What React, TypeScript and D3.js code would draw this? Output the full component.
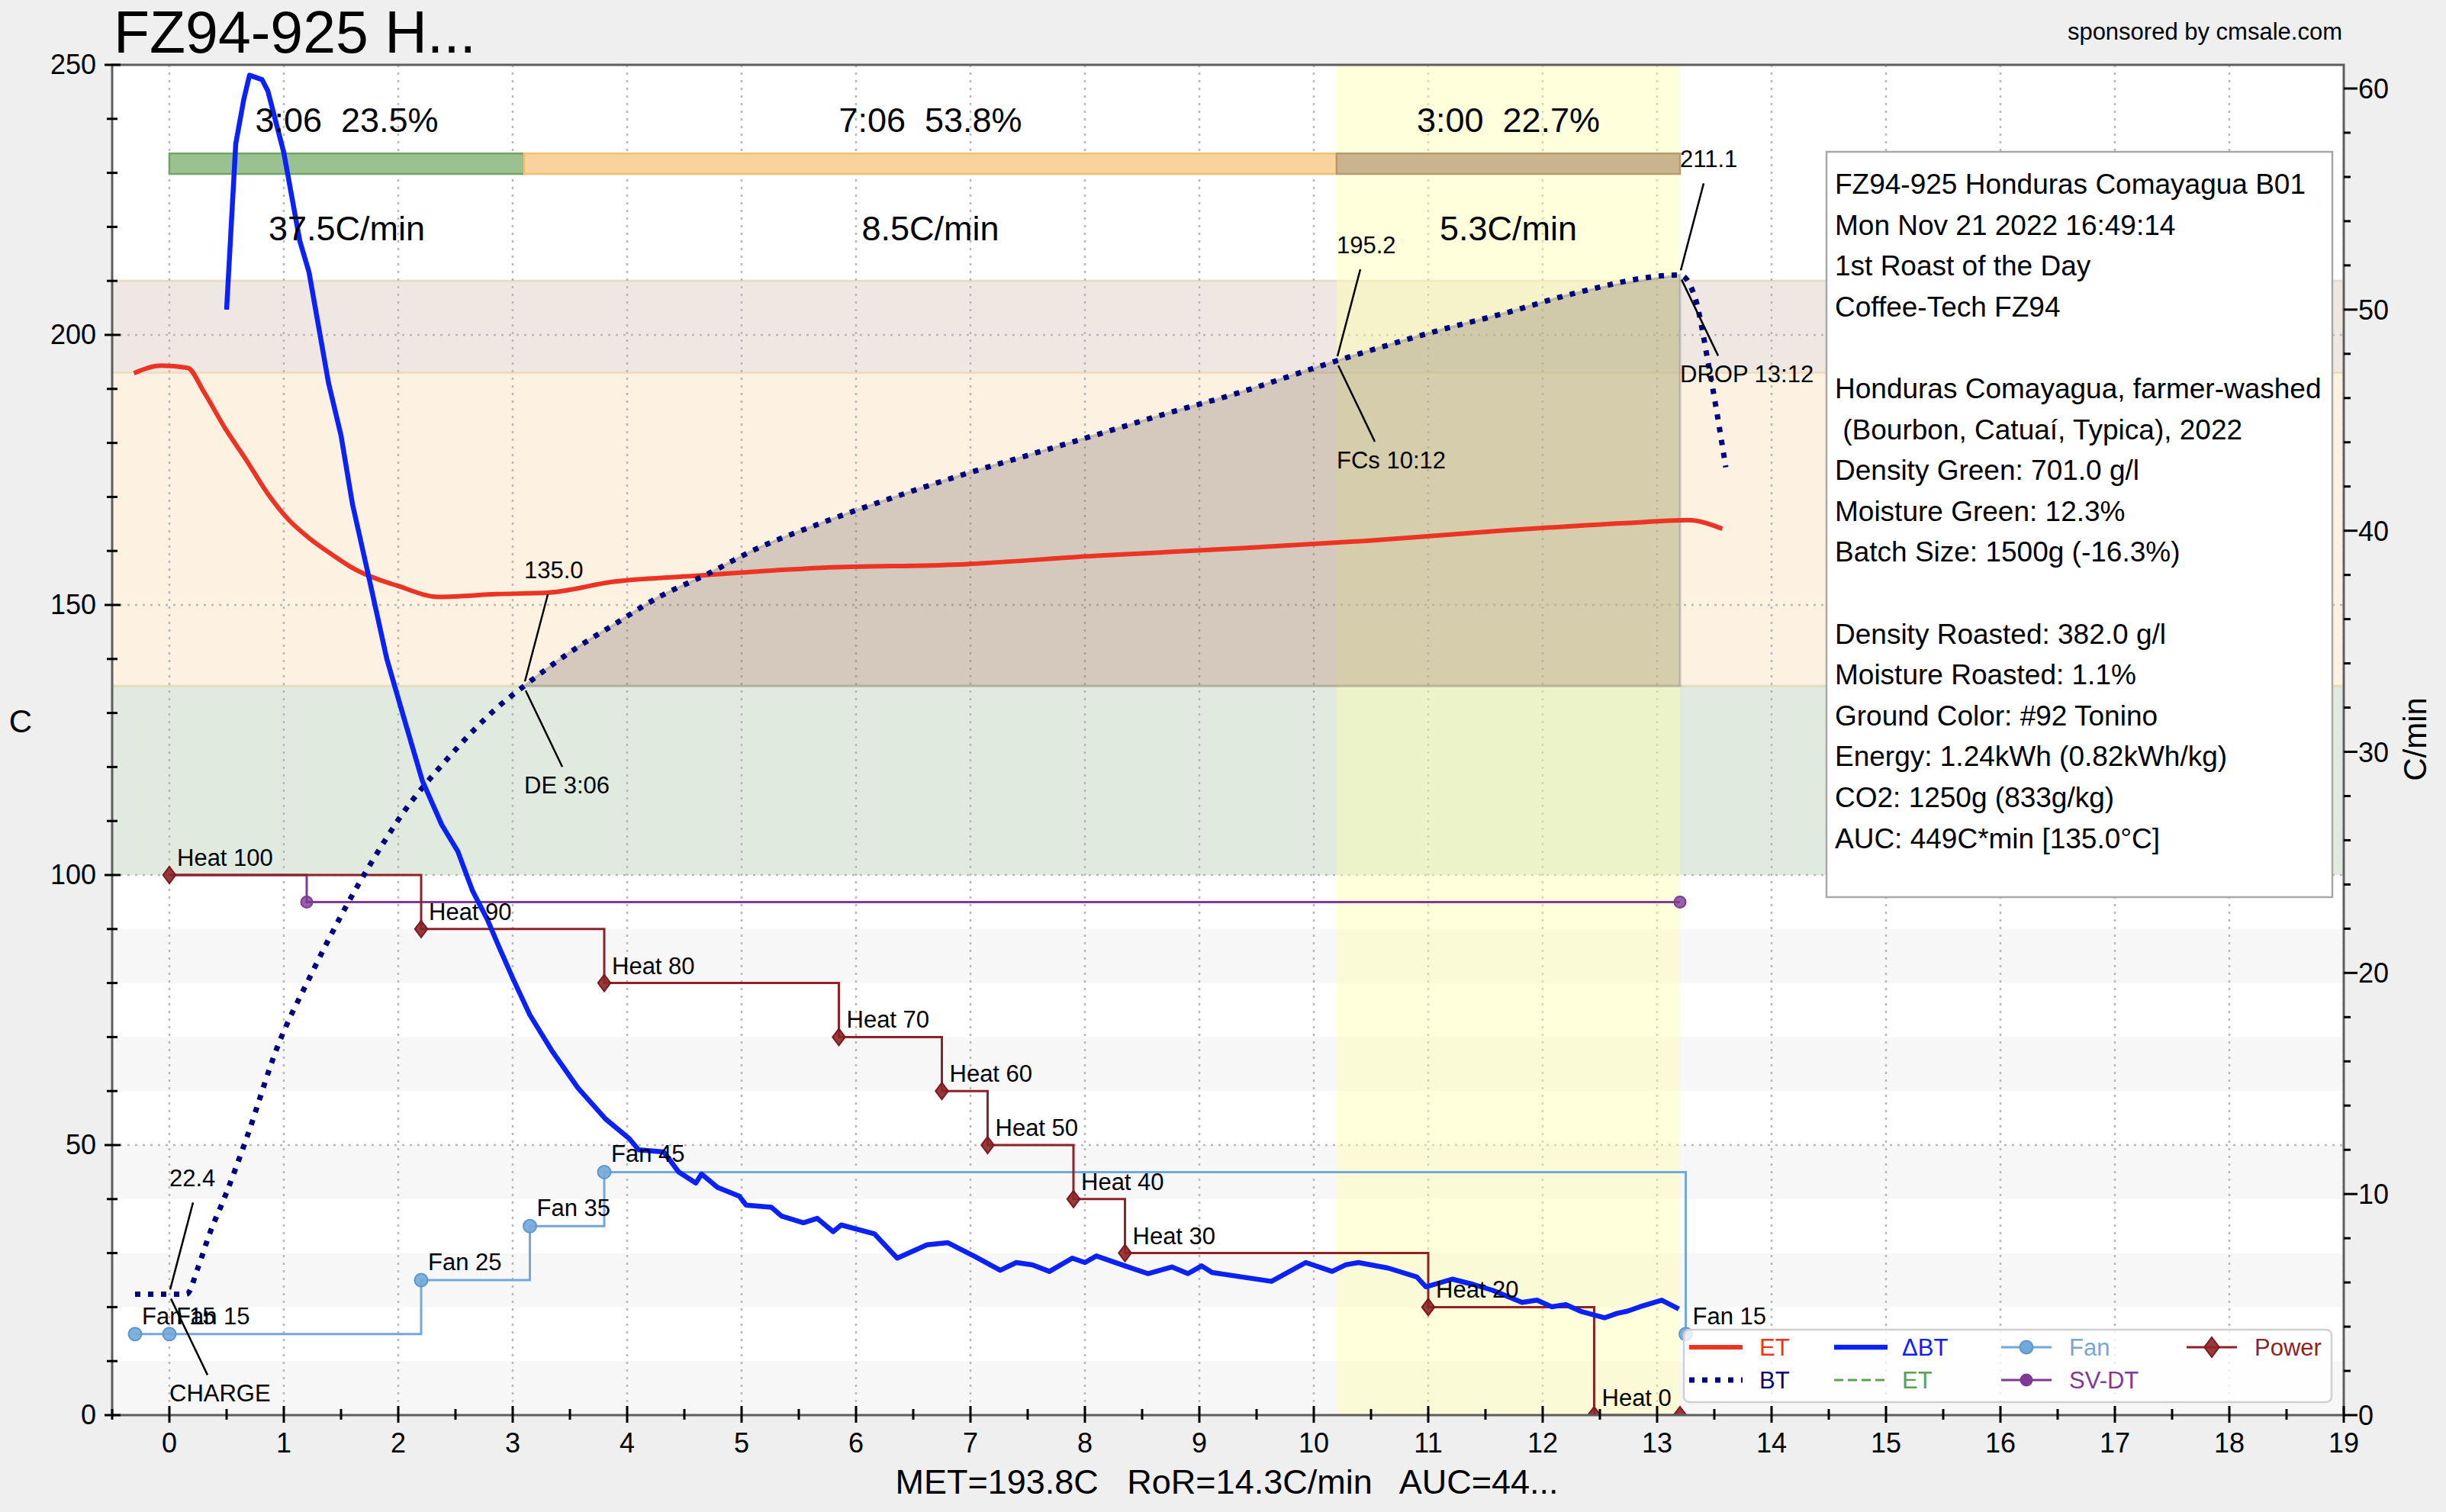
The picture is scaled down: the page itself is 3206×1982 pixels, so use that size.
import * as d3 from "d3";
import { useEffect } from "react";

const W = 3206;
const H = 1982;

// bean temperature (C)
const btTime = [-0.3, 0.15, 0.25, 0.35, 0.49, 0.67, 0.95, 1.23, 1.56, 1.89, 2.0, 2.45, 2.86, 3.1, 3.54, 3.88, 4.28, 4.69, 5.12, 5.7, 6.31, 6.9, 7.5, 8.1, 8.69, 9.3, 10.2, 11.07, 11.7, 12.26, 13.2, 13.33, 13.45, 13.6];
const btVal = [22.4, 22.4, 27.3, 33.5, 40.7, 51, 68.5, 81.2, 94.8, 106.6, 110.2, 122, 130.9, 135.0, 141.8, 146.3, 151.5, 155.6, 160.3, 165.2, 169.8, 173.9, 177.7, 181.5, 185.3, 189, 195.2, 200.7, 204.2, 207.6, 211.1, 207, 194.4, 175.5];

// environment temperature (C)
const etTime = [-0.31, -0.07, 0.16, 0.3, 0.49, 0.67, 0.86, 1.05, 1.22, 1.43, 1.63, 2.0, 2.35, 2.86, 3.32, 3.88, 4.52, 5.71, 6.9, 8.1, 9.28, 10.48, 11.67, 12.85, 13.27, 13.57];
const etVal = [192.9, 194.3, 193.9, 189.5, 182.6, 176.9, 170.6, 165.6, 162.4, 159.2, 156.5, 153.5, 151.5, 152.0, 152.3, 154.3, 155.3, 156.9, 157.5, 159.1, 160.4, 161.9, 163.8, 165.3, 165.7, 164.1];

// delta BT (C/min, right axis)
const rorTime = [0.5, 0.58, 0.65, 0.7, 0.81, 0.86, 1.0, 1.14, 1.22, 1.39, 1.5, 1.6, 1.73, 1.9, 2.04, 2.21, 2.38, 2.52, 2.65, 2.78, 2.87, 3.01, 3.15, 3.34, 3.57, 3.81, 4.02, 4.1, 4.32, 4.45, 4.6, 4.65, 4.79, 4.98, 5.04, 5.26, 5.35, 5.54, 5.66, 5.8, 5.87, 6.16, 6.36, 6.62, 6.8, 7.03, 7.26, 7.4, 7.54, 7.69, 7.89, 8.0, 8.1, 8.35, 8.55, 8.76, 8.9, 9.02, 9.11, 9.37, 9.63, 9.93, 10.16, 10.28, 10.39, 10.65, 10.9, 10.98, 11.21, 11.4, 11.56, 11.82, 11.95, 12.08, 12.2, 12.33, 12.54, 12.65, 12.74, 12.85, 13.04, 13.19];
const rorVal = [50.0, 57.5, 59.5, 60.6, 60.4, 59.9, 57.1, 53.1, 51.7, 46.7, 44.3, 41.2, 38.2, 34.2, 31.7, 28.7, 26.7, 25.5, 23.7, 22.4, 21.3, 19.65, 18.1, 16.5, 14.8, 13.4, 12.5, 12.0, 11.9, 11.0, 10.5, 10.9, 10.3, 9.9, 9.5, 9.4, 9.0, 8.7, 8.9, 8.3, 8.6, 8.2, 7.1, 7.7, 7.8, 7.2, 6.55, 6.9, 6.8, 6.5, 7.1, 6.9, 7.2, 6.75, 6.4, 6.7, 6.4, 6.75, 6.45, 6.25, 6.05, 6.9, 6.5, 6.8, 6.9, 6.65, 6.25, 5.8, 6.15, 5.9, 5.65, 5.1, 5.2, 4.9, 5.0, 4.7, 4.4, 4.6, 4.7, 4.9, 5.2, 4.8];

// control events
const fanTime = [-0.3, 0, 2.2, 3.15, 3.8, 13.25];
const fanVal = [15, 15, 25, 35, 45, 15];
const heatTime = [0, 2.2, 3.8, 5.85, 6.75, 7.15, 7.9, 8.35, 11.0, 12.45, 13.2];
const heatVal = [100, 90, 80, 70, 60, 50, 40, 30, 20, 0, 0];
const heatLabel = ["Heat 100", "Heat 90", "Heat 80", "Heat 70", "Heat 60", "Heat 50", "Heat 40", "Heat 30", "Heat 20", "Heat 0", ""];
const svTime = [0, 1.2, 13.2];
const svVal = [100, 95, 95];

// roast events
const eventTime = [0, 3.1, 10.2, 13.2];
const eventTemp = [22.4, 135.0, 195.2, 211.1];
const eventName = ["CHARGE", "DE 3:06", "FCs 10:12", "DROP 13:12"];

// phases
const phaseStart = [0, 3.1, 10.2];
const phaseEnd = [3.1, 10.2, 13.2];
const phaseTime = ["3:06  23.5%", "7:06  53.8%", "3:00  22.7%"];
const phaseRate = ["37.5C/min", "8.5C/min", "5.3C/min"];

const xTicks = d3.range(0, 20);
const yTicks = [0, 50, 100, 150, 200, 250];
const y2Ticks = [0, 10, 20, 30, 40, 50, 60];

const infoLines = [
  "FZ94-925 Honduras Comayagua B01",
  "Mon Nov 21 2022 16:49:14",
  "1st Roast of the Day",
  "Coffee-Tech FZ94",
  "",
  "Honduras Comayagua, farmer-washed",
  " (Bourbon, Catuaí, Typica), 2022",
  "Density Green: 701.0 g/l",
  "Moisture Green: 12.3%",
  "Batch Size: 1500g (-16.3%)",
  "",
  "Density Roasted: 382.0 g/l",
  "Moisture Roasted: 1.1%",
  "Ground Color: #92 Tonino",
  "Energy: 1.24kWh (0.82kWh/kg)",
  "CO2: 1250g (833g/kg)",
  "AUC: 449C*min [135.0°C]",
];

const FONT = "'Liberation Sans', Arial, Helvetica, sans-serif";
const C_ET = "#ec3424";
const C_BT = "#00007e";
const C_ROR = "#0a22f5";
const C_FAN = "#72a8da";
const C_HEAT = "#8e2327";
const C_SV = "#7e3a94";

export default function App() {
  useEffect(() => {
    document.body.style.margin = "0";
  }, []);

  const L = 147, R = 3072, T = 85, B = 1855;
  const x = d3.scaleLinear().domain([-0.5, 19]).range([L, R]);
  const y = d3.scaleLinear().domain([0, 250]).range([B, T]);
  const y2 = d3.scaleLinear().domain([0, 61.07]).range([B, T]);

  const bt = btTime.map((t, i) => [t, btVal[i]] as [number, number]);
  const et = etTime.map((t, i) => [t, etVal[i]] as [number, number]);
  const ror = rorTime.map((t, i) => [t, rorVal[i]] as [number, number]);

  const tempLine = d3.line<[number, number]>().x((d) => x(d[0])).y((d) => y(d[1])).curve(d3.curveMonotoneX);
  const rorLine = d3.line<[number, number]>().x((d) => x(d[0])).y((d) => y2(d[1]));
  const stepLine = d3.line<[number, number]>().x((d) => x(d[0])).y((d) => y(d[1])).curve(d3.curveStepAfter);

  const aucPts = bt.filter((d) => d[0] >= 3.1 && d[0] <= 13.2);
  const aucArea = d3.area<[number, number]>().x((d) => x(d[0])).y0(y(135)).y1((d) => y(d[1])).curve(d3.curveMonotoneX);

  const fan = fanTime.map((t, i) => [t, fanVal[i]] as [number, number]);
  const heat = heatTime.map((t, i) => [t, heatVal[i]] as [number, number]);
  const sv = svTime.map((t, i) => [t, svVal[i]] as [number, number]);

  const diamond = (cx: number, cy: number, r: number) => `M${cx},${cy - r}L${cx + r * 0.75},${cy}L${cx},${cy + r}L${cx - r * 0.75},${cy}Z`;

  const minorX = d3.range(-0.5, 19.01, 0.5).filter((v) => !Number.isInteger(v));
  const minorY = d3.range(0, 251, 10).filter((v) => v % 50 !== 0);
  const minorY2 = d3.range(0, 61, 2).filter((v) => v % 10 !== 0);

  const legendCols = [2214, 2404, 2623, 2866];
  const row1 = 1766, row2 = 1809;

  return (
    <svg width={W} height={H} style={{ display: "block", fontFamily: FONT }}>
      <defs>
        <clipPath id="plot">
          <rect x={L} y={T} width={R - L} height={B - T} />
        </clipPath>
      </defs>
      <rect x={0} y={0} width={W} height={H} fill="#efefef" />
      <rect x={L} y={T} width={R - L} height={B - T} fill="#ffffff" />

      <g clipPath="url(#plot)">
        {/* background stripes below 100 */}
        {[0, 20, 40, 60, 80].map((v) => (
          <rect key={v} x={L} width={R - L} y={y(v + 10)} height={y(v) - y(v + 10)} fill="#f7f7f7" />
        ))}
        {/* phase bands */}
        <rect x={L} width={R - L} y={y(135)} height={y(100) - y(135)} fill="#e1eadf" />
        <rect x={L} width={R - L} y={y(193)} height={y(135) - y(193)} fill="#fdf1e2" />
        <rect x={L} width={R - L} y={y(210)} height={y(193) - y(210)} fill="#efe8e2" />
        <line x1={L} x2={R} y1={y(135)} y2={y(135)} stroke="#e2dcb8" strokeWidth={3} />
        <line x1={L} x2={R} y1={y(193)} y2={y(193)} stroke="#f0dcc0" strokeWidth={3} />
        <line x1={L} x2={R} y1={y(210)} y2={y(210)} stroke="#e8dccf" strokeWidth={3} />

        {/* grid */}
        {xTicks.map((t) => (
          <line key={t} x1={x(t)} x2={x(t)} y1={T} y2={B} stroke="#b8b8b8" strokeWidth={2.5} strokeDasharray="3,7" />
        ))}
        {[50, 100, 150, 200].map((v) => (
          <line key={v} x1={L} x2={R} y1={y(v)} y2={y(v)} stroke="#b8b8b8" strokeWidth={2.5} strokeDasharray="3,7" />
        ))}

        {/* development band */}
        <rect x={x(10.2)} width={x(13.2) - x(10.2)} y={T} height={B - T} fill="rgba(255,255,170,0.42)" />

        {/* AUC */}
        <path d={aucArea(aucPts) ?? ""} fill="rgba(120,110,100,0.3)" stroke="rgba(150,150,150,0.5)" strokeWidth={3} />

        {/* phase bars */}
        <rect x={x(0)} width={x(3.1) - x(0)} y={y(233.6)} height={y(229.8) - y(233.6)} fill="#9cc190" stroke="#72a563" strokeWidth={2.5} />
        <rect x={x(3.1)} width={x(10.2) - x(3.1)} y={y(233.6)} height={y(229.8) - y(233.6)} fill="#f8d39d" stroke="#f6bf6e" strokeWidth={2.5} />
        <rect x={x(10.2)} width={x(13.2) - x(10.2)} y={y(233.6)} height={y(229.8) - y(233.6)} fill="#c9b48e" stroke="#b59a6c" strokeWidth={2.5} />

        {/* SV-DT */}
        <path d={stepLine(sv) ?? ""} fill="none" stroke={C_SV} strokeWidth={3} />
        {sv.slice(1).map((d, i) => (
          <circle key={i} cx={x(d[0])} cy={y(d[1])} r={7.5} fill={C_SV} fillOpacity={0.8} stroke={C_SV} strokeWidth={2} />
        ))}

        {/* Fan */}
        <path d={stepLine(fan) ?? ""} fill="none" stroke={C_FAN} strokeWidth={3} />
        {fan.map((d, i) => (
          <circle key={i} cx={x(d[0])} cy={y(d[1])} r={8.5} fill={C_FAN} fillOpacity={0.9} stroke="#5f97cc" strokeWidth={2} />
        ))}

        {/* Heat */}
        <path d={stepLine(heat) ?? ""} fill="none" stroke={C_HEAT} strokeWidth={3} />
        {heat.map((d, i) => (
          <path key={i} d={diamond(x(d[0]), y(d[1]), 11)} fill={C_HEAT} fillOpacity={0.9} stroke="#7a1a1e" strokeWidth={2} />
        ))}

        {/* curves */}
        <path d={tempLine(et) ?? ""} fill="none" stroke={C_ET} strokeWidth={6} strokeLinejoin="round" />
        <path d={tempLine(bt) ?? ""} fill="none" stroke={C_BT} strokeWidth={7} strokeDasharray="7,10" />
        <path d={rorLine(ror) ?? ""} fill="none" stroke={C_ROR} strokeWidth={6.5} strokeLinejoin="round" />
      </g>

      {/* phase texts */}
      {phaseTime.map((s, i) => {
        const cx = x((phaseStart[i] + phaseEnd[i]) / 2);
        return (
          <g key={i} fontSize={45} textAnchor="middle" fill="#000">
            <text x={cx} y={y(237.6)} style={{ whiteSpace: "pre" }}>{s}</text>
            <text x={cx} y={y(217.5)}>{phaseRate[i]}</text>
          </g>
        );
      })}

      {/* heat / fan labels */}
      {heat.map((d, i) =>
        heatLabel[i] ? (
          <text key={i} x={x(d[0]) + 10} y={y(d[1]) - 12} fontSize={31} fill="#000">{heatLabel[i]}</text>
        ) : null
      )}
      {fan.map((d, i) => (
        <text key={i} x={x(d[0]) + 9} y={y(d[1]) - 13} fontSize={31} fill="#000">{"Fan " + d[1]}</text>
      ))}

      {/* event annotations */}
      {eventTime.map((t, i) => {
        const px = x(t);
        const py = y(eventTemp[i]);
        return (
          <g key={i} fontSize={31} fill="#000">
            <line x1={px + 31} y1={py - 120} x2={px + 1} y2={py - 6} stroke="#000" strokeWidth={2.5} />
            <text x={px} y={py - 141}>{eventTemp[i].toFixed(1)}</text>
            <line x1={px + 2} y1={py + 6} x2={px + 50} y2={py + 106} stroke="#000" strokeWidth={2.5} />
            <text x={px} y={py + 141}>{eventName[i]}</text>
          </g>
        );
      })}

      {/* spines */}
      <rect x={L} y={T} width={R - L} height={B - T} fill="none" stroke="#5e5e5e" strokeWidth={3} />

      {/* left axis */}
      {yTicks.map((v) => (
        <g key={v}>
          <line x1={L - 10} x2={L + 11} y1={y(v)} y2={y(v)} stroke="#000" strokeWidth={3} />
          <text x={126} y={y(v) + 12} fontSize={36} textAnchor="end">{v}</text>
        </g>
      ))}
      {minorY.map((v) => (
        <line key={v} x1={L - 7} x2={L + 7} y1={y(v)} y2={y(v)} stroke="#000" strokeWidth={3} />
      ))}
      <text x={27} y={960} fontSize={42} textAnchor="middle">C</text>

      {/* right axis */}
      {y2Ticks.map((v) => (
        <g key={v}>
          <line x1={R} x2={R + 18} y1={y2(v)} y2={y2(v)} stroke="#000" strokeWidth={3} />
          <text x={3091} y={y2(v) + 13} fontSize={36}>{v}</text>
        </g>
      ))}
      {minorY2.map((v) => (
        <line key={v} x1={R} x2={R + 9} y1={y2(v)} y2={y2(v)} stroke="#000" strokeWidth={3} />
      ))}
      <text transform={`translate(3180,${969}) rotate(-90)`} fontSize={42} textAnchor="middle">C/min</text>

      {/* bottom axis */}
      {xTicks.map((t) => (
        <g key={t}>
          <line x1={x(t)} x2={x(t)} y1={B - 12} y2={B + 10} stroke="#000" strokeWidth={3} />
          <text x={x(t)} y={1904} fontSize={36} textAnchor="middle">{t}</text>
        </g>
      ))}
      {minorX.map((t) => (
        <line key={t} x1={x(t)} x2={x(t)} y1={B - 8} y2={B + 6} stroke="#000" strokeWidth={3} />
      ))}

      {/* info box */}
      <rect x={2394} y={199} width={663} height={977} fill="#ffffff" stroke="#a8a8a8" strokeWidth={2.5} />
      {infoLines.map((s, i) => (
        <text key={i} x={2405} y={254 + i * 53.6} fontSize={37} style={{ whiteSpace: "pre" }}>{s}</text>
      ))}

      {/* legend */}
      <rect x={2207} y={1743} width={849} height={95} rx={7} fill="rgba(255,255,255,0.8)" stroke="#d0d0d0" strokeWidth={2.5} />
      <g fontSize={31}>
        <line x1={legendCols[0]} x2={legendCols[0] + 70} y1={row1} y2={row1} stroke={C_ET} strokeWidth={6} />
        <text x={legendCols[0] + 92} y={row1 + 11} fill={C_ET}>ET</text>
        <line x1={legendCols[0]} x2={legendCols[0] + 70} y1={row2} y2={row2} stroke={C_BT} strokeWidth={7} strokeDasharray="7,10" />
        <text x={legendCols[0] + 92} y={row2 + 11} fill={C_BT}>BT</text>

        <line x1={legendCols[1]} x2={legendCols[1] + 70} y1={row1} y2={row1} stroke={C_ROR} strokeWidth={6.5} />
        <text x={legendCols[1] + 89} y={row1 + 11} fill={C_ROR}>ΔBT</text>
        <line x1={legendCols[1]} x2={legendCols[1] + 70} y1={row2} y2={row2} stroke="#5ea14d" strokeWidth={3} strokeDasharray="12,6" />
        <text x={legendCols[1] + 89} y={row2 + 11} fill="#5ea14d">ET</text>

        <line x1={legendCols[2]} x2={legendCols[2] + 66} y1={row1} y2={row1} stroke={C_FAN} strokeWidth={3} />
        <circle cx={legendCols[2] + 33} cy={row1} r={8.5} fill={C_FAN} stroke="#5f97cc" strokeWidth={2} />
        <text x={legendCols[2] + 89} y={row1 + 11} fill={C_FAN}>Fan</text>
        <line x1={legendCols[2]} x2={legendCols[2] + 66} y1={row2} y2={row2} stroke={C_SV} strokeWidth={3} />
        <circle cx={legendCols[2] + 33} cy={row2} r={7.5} fill={C_SV} stroke={C_SV} strokeWidth={2} />
        <text x={legendCols[2] + 89} y={row2 + 11} fill={C_SV}>SV-DT</text>

        <line x1={legendCols[3]} x2={legendCols[3] + 66} y1={row1} y2={row1} stroke={C_HEAT} strokeWidth={3} />
        <path d={diamond(legendCols[3] + 33, row1, 13)} fill={C_HEAT} fillOpacity={0.9} stroke="#7a1a1e" strokeWidth={2} />
        <text x={legendCols[3] + 89} y={row1 + 11} fill={C_HEAT}>Power</text>
      </g>

      {/* titles */}
      <text x={149} y={69} fontSize={77}>FZ94-925 H...</text>
      <text x={3070} y={52} fontSize={31} textAnchor="end">sponsored by cmsale.com</text>
      <text x={1608} y={1958} fontSize={45} textAnchor="middle" style={{ whiteSpace: "pre" }}>
        {"MET=193.8C   RoR=14.3C/min   AUC=44..."}
      </text>
    </svg>
  );
}
